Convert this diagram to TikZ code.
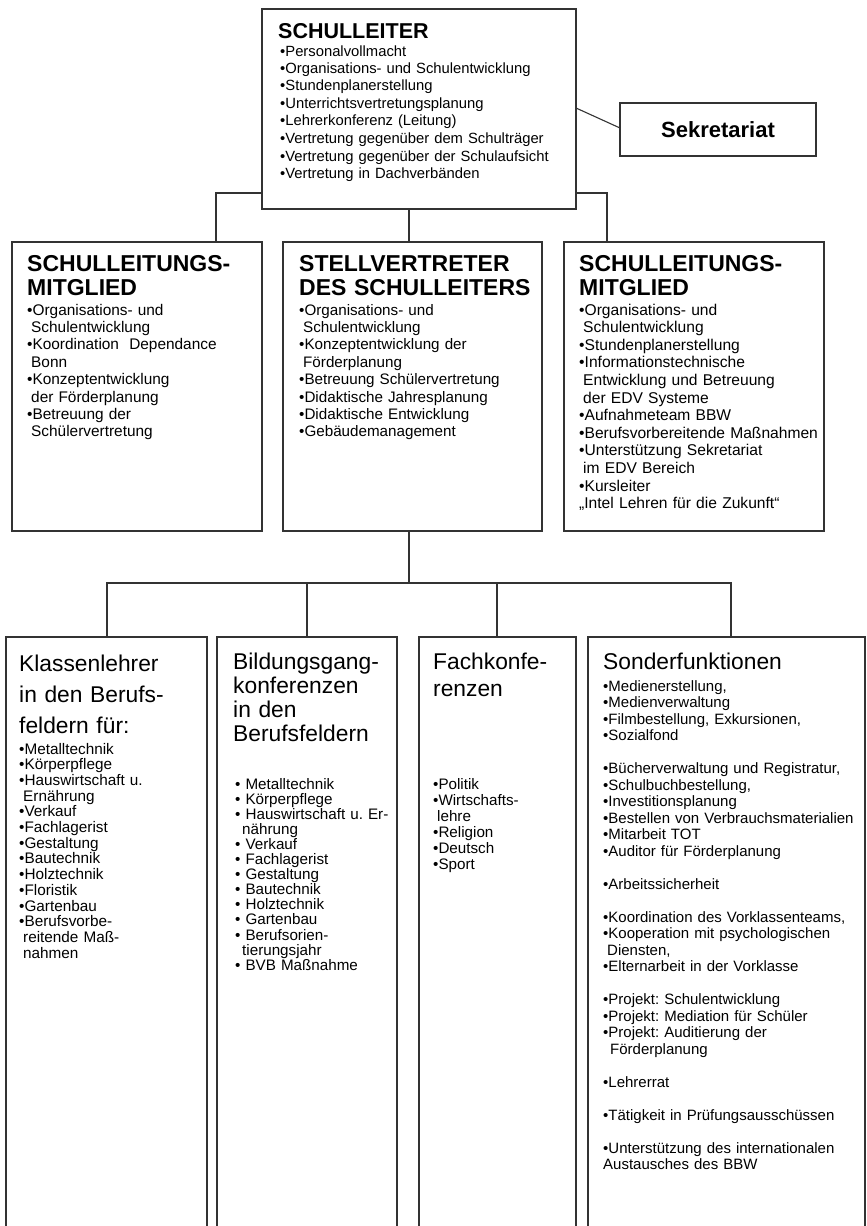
\documentclass[tikz,border=0pt]{standalone}
\usepackage{fontspec}
\setmainfont{Liberation Sans}
\usepackage{tikz}
\usetikzlibrary{calc}
\usetikzlibrary{positioning}
\tikzset{
  box/.style={draw=black!80, line width=1.2pt, anchor=north west, inner sep=0pt, outer sep=0pt},
  link/.style={draw=black!80, line width=1.1pt},
  txt/.style={anchor=base west, inner sep=0pt, text width=300pt, align=left},
  list/.style 2 args={txt, font=\fontsize{#1}{#2}\selectfont},
  bighead/.style={txt, font=\bfseries\fontsize{23}{24.5}\selectfont},
  lowhead/.style={txt, font=\fontsize{22.8}{#1}\selectfont}
}
\newcommand{\ind}{\hspace*{4pt}}
\frenchspacing

\begin{document}
\begin{tikzpicture}[x=1pt,y=-1pt]
\useasboundingbox (0,0) rectangle (867,1226);
\clip (0,0) rectangle (867,1226);

\node[box, minimum width=314pt, minimum height=200pt] (leiter) at (262,9) {};
\node[box, minimum width=196pt, minimum height=53pt] (sek) at (620,103) {};
\node[box, minimum width=250pt, minimum height=289pt] (sl1) at (12,242) {};
\node[box, minimum width=259pt, minimum height=289pt] (stv) at (283,242) {};
\node[box, minimum width=260pt, minimum height=289pt] (sl2) at (564,242) {};
\node[box, minimum width=201pt, minimum height=640pt] (klass) at (6,637) {};
\node[box, minimum width=180pt, minimum height=640pt] (bild) at (217,637) {};
\node[box, minimum width=157pt, minimum height=640pt] (fach) at (419,637) {};
\node[box, minimum width=277pt, minimum height=640pt] (sonder) at (588,637) {};

\coordinate (bus) at (409,583);
\draw[link] (leiter.east |- 0,108) -- (sek.west |- 0,128);
\draw[link] (leiter.west |- 0,193) -| (sl1.north -| 216,0);
\draw[link] (leiter.east |- 0,193) -| (sl2.north -| 607,0);
\draw[link] (leiter.south -| bus) -- (stv.north -| bus);
\draw[link] (stv.south -| bus) -- (bus);
\draw[link] (klass.north -| 107,0) |- (bus -| 731,0) -- (sonder.north -| 731,0);
\foreach \x/\b in {307/bild,497/fach} {
  \draw[link] (\b.north -| \x,0) -- (bus -| \x,0);
}

\node[txt, font=\bfseries\fontsize{21.5}{24}\selectfont] (t0) at (278,38) {SCHULLEITER};
\node[list={14.8}{17.5}] (l0) at (280,56) {•Personalvollmacht\\
•Organisations- und Schulentwicklung\\
•Stundenplanerstellung\\
•Unterrichtsvertretungsplanung\\
•Lehrerkonferenz (Leitung)\\
•Vertretung gegenüber dem Schulträger\\
•Vertretung gegenüber der Schulaufsicht\\
•Vertretung in Dachverbänden};
\node[font=\bfseries\fontsize{22}{24}\selectfont] (tsek) at (sek.center) {Sekretariat};

\node[bighead] (t1) at (27,271) {SCHULLEITUNGS-\\MITGLIED};
\node[list={15.4}{17.4}] (l1) at (27,315) {•Organisations- und\\
\ind Schulentwicklung\\
•Koordination\ \ Dependance\\
\ind Bonn\\
•Konzeptentwicklung\\
\ind der Förderplanung\\
•Betreuung der\\
\ind Schülervertretung};

\node[bighead] (t2) at (299,271) {STELLVERTRETER\\DES SCHULLEITERS};
\node[list={15.2}{17.4}] (l2) at (299,315) {•Organisations- und\\
\ind Schulentwicklung\\
•Konzeptentwicklung der\\
\ind Förderplanung\\
•Betreuung Schülervertretung\\
•Didaktische Jahresplanung\\
•Didaktische Entwicklung\\
•Gebäudemanagement};

\node[bighead] (t3) at (579,271) {SCHULLEITUNGS-\\MITGLIED};
\node[list={15.6}{17.6}] (l3) at (579,315) {•Organisations- und\\
\ind Schulentwicklung\\
•Stundenplanerstellung\\
•Informationstechnische\\
\ind Entwicklung und Betreuung\\
\ind der EDV Systeme\\
•Aufnahmeteam BBW\\
•Berufsvorbereitende Maßnahmen\\
•Unterstützung Sekretariat\\
\ind im EDV Bereich\\
•Kursleiter\\
„Intel Lehren für die Zukunft“};

\node[lowhead=31] (t4) at (19,671) {Klassenlehrer\\in den Berufs-\\feldern für:};
\node[list={15.3}{15.7}] (l4) at (19,754) {•Metalltechnik\\
•Körperpflege\\
•Hauswirtschaft u.\\
\ind Ernährung\\
•Verkauf\\
•Fachlagerist\\
•Gestaltung\\
•Bautechnik\\
•Holztechnik\\
•Floristik\\
•Gartenbau\\
•Berufsvorbe-\\
\ind reitende Maß-\\
\ind nahmen};

\node[lowhead=24] (t5) at (233,669) {Bildungsgang-\\konferenzen\\in den\\Berufsfeldern};
\node[list={15.2}{15.1}] (l5) at (235,789) {• Metalltechnik\\
• Körperpflege\\
• Hauswirtschaft u. Er-\\
\hspace*{7pt}nährung\\
• Verkauf\\
• Fachlagerist\\
• Gestaltung\\
• Bautechnik\\
• Holztechnik\\
• Gartenbau\\
• Berufsorien-\\
\hspace*{7pt}tierungsjahr\\
• BVB Maßnahme};

\node[lowhead=27] (t6) at (433,669) {Fachkonfe-\\renzen};
\node[list={15.2}{16}] (l6) at (433,789) {•Politik\\
•Wirtschafts-\\
\ind lehre\\
•Religion\\
•Deutsch\\
•Sport};

\node[lowhead=27] (t7) at (603,669) {Sonderfunktionen};
\node[list={15}{16.5}] (l7) at (603,691) {•Medienerstellung,\\
•Medienverwaltung\\
•Filmbestellung, Exkursionen,\\
•Sozialfond\\[16.5pt]
•Bücherverwaltung und Registratur,\\
•Schulbuchbestellung,\\
•Investitionsplanung\\
•Bestellen von Verbrauchsmaterialien\\
•Mitarbeit TOT\\
•Auditor für Förderplanung\\[16.5pt]
•Arbeitssicherheit\\[16.5pt]
•Koordination des Vorklassenteams,\\
•Kooperation mit psychologischen\\
\ind Diensten,\\
•Elternarbeit in der Vorklasse\\[16.5pt]
•Projekt: Schulentwicklung\\
•Projekt: Mediation für Schüler\\
•Projekt: Auditierung der\\
\hspace*{7pt}Förderplanung\\[16.5pt]
•Lehrerrat\\[16.5pt]
•Tätigkeit in Prüfungsausschüssen\\[16.5pt]
•Unterstützung des internationalen\\
Austausches des BBW};
\end{tikzpicture}
\end{document}
